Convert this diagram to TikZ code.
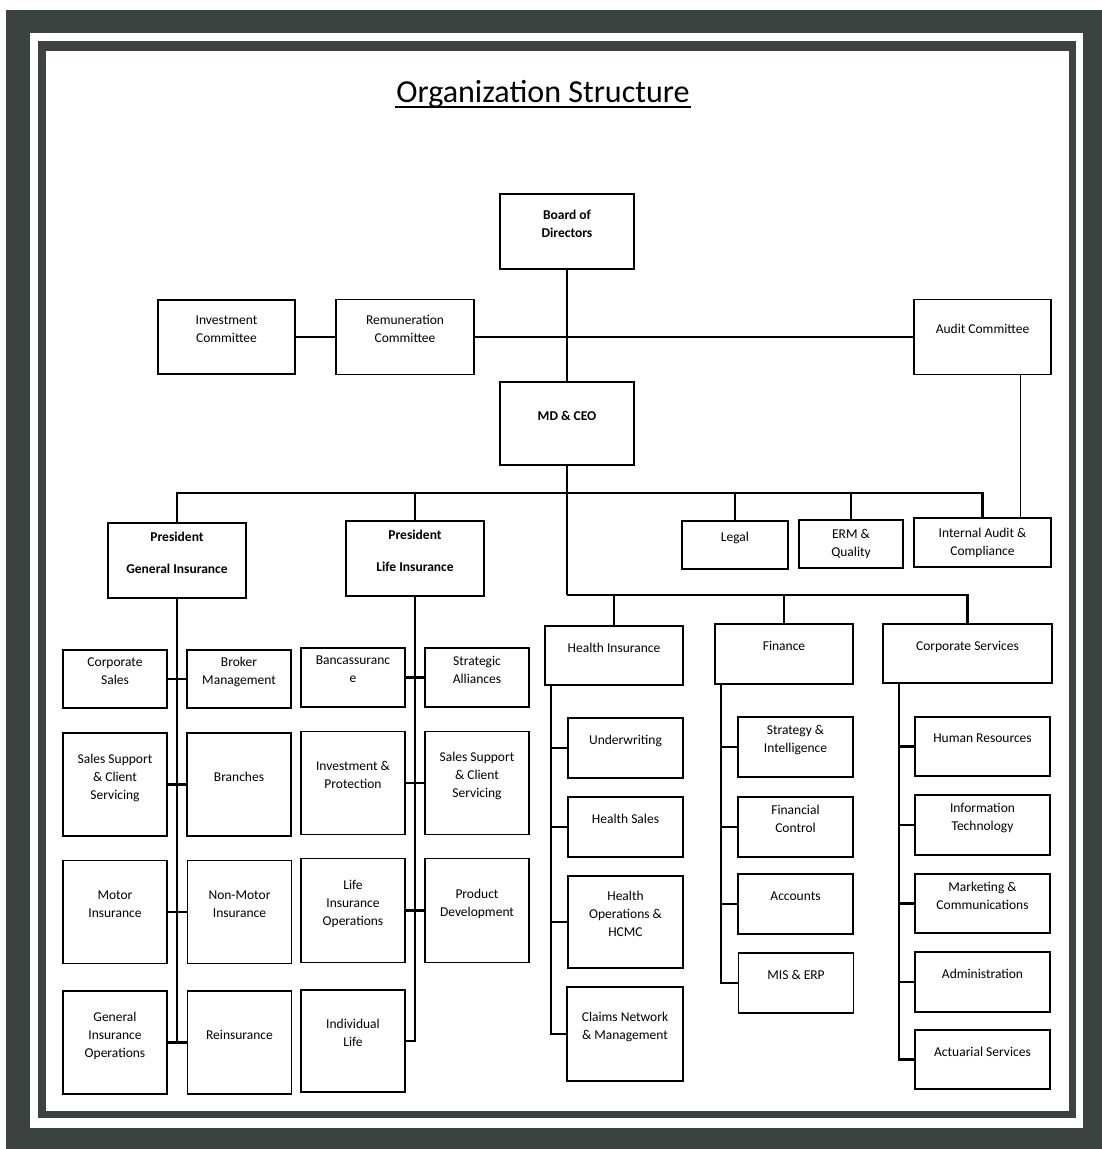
\documentclass[tikz,border=0pt]{standalone}
\usepackage{fontspec}
\setmainfont{Carlito}
\usepackage{tikz}
\definecolor{framegray}{RGB}{60,67,65}
\tikzset{
  unit/.style={draw, line width=1.3pt, align=center, inner sep=1pt,
    font=\fontsize{9.6}{12.8}\selectfont},
  dept/.style={unit, execute at end node={\rule[-0.4cm]{0pt}{0.4cm}}},
  bold/.style={font=\fontsize{9.6}{12.8}\selectfont\bfseries},
  wh/.style 2 args={minimum width=#1cm, minimum height=#2cm},
}
\begin{document}
\begin{tikzpicture}[x=0.025cm, y=-0.025cm, line width=1.5pt]
  \useasboundingbox (0,0) rectangle (1102,1149);
  \fill[framegray] (6,10) rectangle (1102,1149);
  \fill[white] (30,33) rectangle (1083,1128);
  \fill[framegray] (38,41) rectangle (1076,1118);
  \fill[white] (46,51) rectangle (1069,1111);

  \node[anchor=base, inner sep=0, font=\fontsize{22.8}{27}\selectfont] (title) at (543,103) {Organization Structure};
  \draw[line width=1.4pt] ([yshift=-0.1cm]title.base west) -- ([yshift=-0.1cm]title.base east);

  \node[dept, bold, wh={3.35}{1.875}] (bod) at (567,231.5) {Board of\\Directors};
  \node[dept, wh={3.43}{1.85}] (inv) at (226.5,337) {Investment\\Committee};
  \node[dept, wh={3.45}{1.875}] (rem) at (405,337) {Remuneration\\Committee};
  \node[dept, wh={3.43}{1.875}] (audit) at (982.5,337) {Audit Committee};
  \node[dept, bold, wh={3.33}{2.08}] (mdceo) at (567,423.5) {MD \& CEO};

  \node[dept, bold, wh={3.45}{1.875}] (pgi) at (177,560.5) {President\\[0.35cm]General Insurance};
  \node[dept, bold, wh={3.45}{1.875}] (pli) at (415,558.5) {President\\[0.35cm]Life Insurance};
  \node[dept, wh={2.65}{1.2}] (legal) at (735,545) {Legal};
  \node[unit, wh={2.6}{1.2}] (erm) at (851,544) {ERM \&\\Quality};
  \node[unit, wh={3.43}{1.22}] (ia) at (982.5,542.5) {Internal Audit \&\\Compliance};

  \node[dept, wh={3.45}{1.48}] (hi) at (614,655.5) {Health Insurance};
  \node[dept, wh={3.45}{1.5}] (fin) at (784,654) {Finance};
  \node[dept, wh={4.22}{1.48}] (cs) at (967.5,653.5) {Corporate Services};

  \node[dept, wh={2.6}{1.45}] (csales) at (115,679) {Corporate\\Sales};
  \node[dept, wh={2.6}{1.45}] (broker) at (239,679) {Broker\\Management};
  \node[dept, wh={2.6}{2.575}] (gss) at (115,784.5) {Sales Support\\\& Client\\Servicing};
  \node[dept, wh={2.6}{2.575}] (branch) at (239,784.5) {Branches};
  \node[dept, wh={2.6}{2.575}] (motor) at (115,912) {Motor\\Insurance};
  \node[dept, wh={2.6}{2.575}] (nonmotor) at (239.5,912) {Non-Motor\\Insurance};
  \node[dept, wh={2.6}{2.575}] (gio) at (115,1042.5) {General\\Insurance\\Operations};
  \node[dept, wh={2.6}{2.575}] (reins) at (239.5,1042.5) {Reinsurance};

  \node[dept, wh={2.6}{1.475}] (bank) at (353,677.5) {Bancassuranc\\e};
  \node[dept, wh={2.6}{1.475}] (strat) at (477,677.5) {Strategic\\Alliances};
  \node[dept, wh={2.6}{2.575}] (iprot) at (353,783) {Investment \&\\Protection};
  \node[dept, wh={2.6}{2.575}] (lss) at (477,783) {Sales Support\\\& Client\\Servicing};
  \node[dept, wh={2.6}{2.6}] (lio) at (353,910.5) {Life\\Insurance\\Operations};
  \node[dept, wh={2.6}{2.6}] (prod) at (477,910.5) {Product\\Development};
  \node[dept, wh={2.6}{2.55}] (indiv) at (353,1041) {Individual\\Life};

  \node[dept, wh={2.875}{1.5}] (uw) at (625.5,748) {Underwriting};
  \node[dept, wh={2.875}{1.5}] (hsales) at (625.5,827) {Health Sales};
  \node[dept, wh={2.875}{2.3}] (hops) at (625.5,922) {Health\\Operations \&\\HCMC};
  \node[dept, wh={2.9}{2.35}] (claims) at (625,1034) {Claims Network\\\& Management};

  \node[dept, wh={2.875}{1.5}] (si) at (795.5,747) {Strategy \&\\Intelligence};
  \node[dept, wh={2.875}{1.5}] (fc) at (795.5,827) {Financial\\Control};
  \node[dept, wh={2.875}{1.5}] (acc) at (795.5,904) {Accounts};
  \node[dept, wh={2.875}{1.5}] (mis) at (796,983) {MIS \& ERP};

  \node[dept, wh={3.375}{1.48}] (hr) at (982.5,746.5) {Human Resources};
  \node[dept, wh={3.375}{1.5}] (it) at (982.5,825) {Information\\Technology};
  \node[dept, wh={3.375}{1.48}] (mc) at (982.5,903.5) {Marketing \&\\Communications};
  \node[dept, wh={3.375}{1.5}] (adm) at (982.5,982) {Administration};
  \node[dept, wh={3.375}{1.48}] (act) at (982.5,1059.5) {Actuarial Services};

  \coordinate (bus1) at (567,493);
  \coordinate (bus2) at (567,595);

  \draw (bod) -- (mdceo);
  \draw (rem) -- (audit);
  \draw[line width=1pt] (inv) -- (rem);
  \draw[line width=1pt] ([xshift=0.95cm]audit.south) -- ([xshift=0.95cm]ia.north);
  \draw (mdceo.south) -- (bus2);
  \foreach \n in {pgi,pli,legal,erm,ia}
    \draw (\n.north) |- (bus1);
  \foreach \n in {hi,fin,cs}
    \draw (\n.north) |- (bus2);

  \draw (pgi.south) -- (pgi.south |- gio.east);
  \foreach \a/\b in {csales/broker,gss/branch,motor/nonmotor,gio/reins}
    \draw (\a) -- (\b);
  \draw (pli.south) |- (indiv.east);
  \foreach \a/\b in {bank/strat,iprot/lss,lio/prod}
    \draw (\a) -- (\b);

  \foreach \n in {uw,hsales,hops,claims}
    \draw ([xshift=0.175cm]hi.south west) |- (\n.west);
  \foreach \n in {si,fc,acc,mis}
    \draw ([xshift=0.175cm]fin.south west) |- (\n.west);
  \foreach \n in {hr,it,mc,adm,act}
    \draw ([xshift=0.425cm]cs.south west) |- (\n.west);
\end{tikzpicture}
\end{document}
